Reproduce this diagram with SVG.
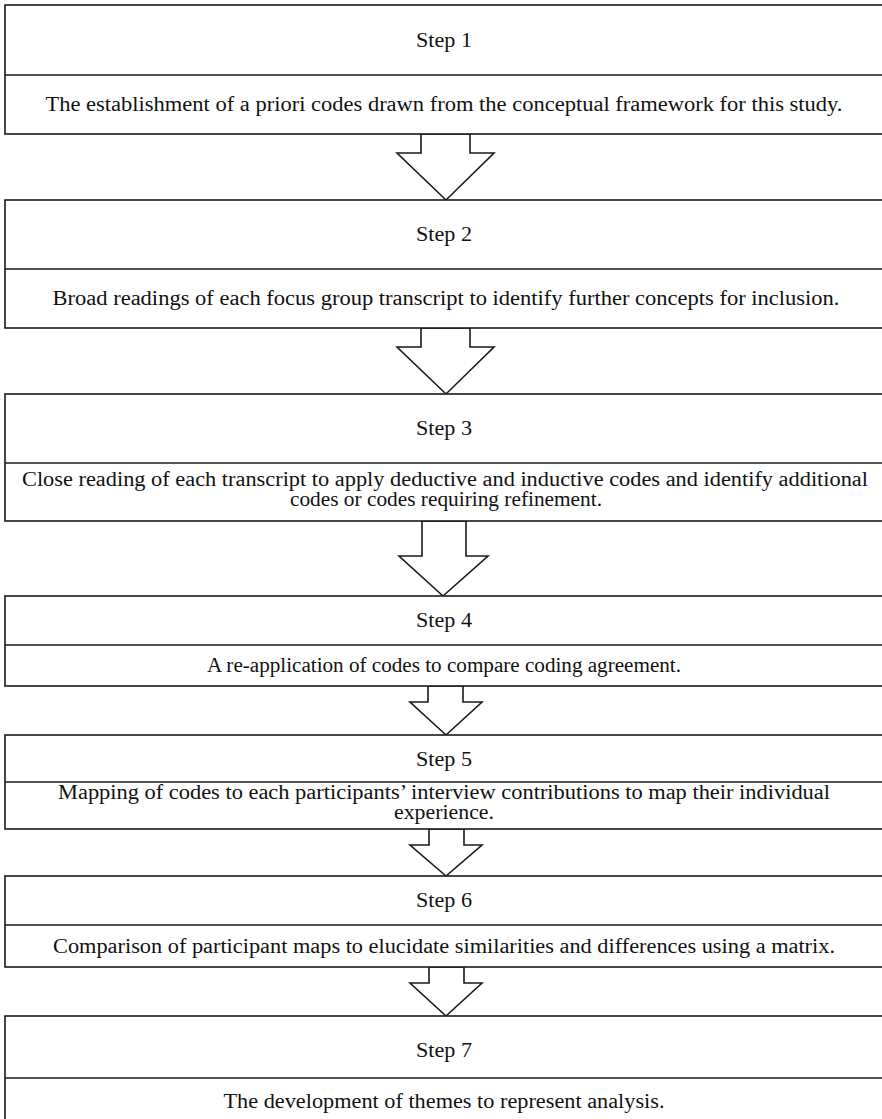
<svg xmlns="http://www.w3.org/2000/svg" width="882" height="1119" viewBox="0 0 882 1119">
<style>
.box{fill:#fff;stroke:#1a1a1a;stroke-width:1.6}
.div{stroke:#1a1a1a;stroke-width:1.6}
.arr{fill:#fff;stroke:#1a1a1a;stroke-width:1.6;stroke-linejoin:miter}
text{font-family:"Liberation Serif","Times New Roman",serif;font-size:20px;fill:#111;text-anchor:middle}
</style>
<rect width="882" height="1119" fill="#fff"/>
<g id="connectors">
<polygon class="arr" points="421,134 421,153 397,153 446,200 494,153 470,153 470,134"/>
<polygon class="arr" points="421,328 421,347 397,347 446,394 494,347 470,347 470,328"/>
<polygon class="arr" points="422,521 422,556 399,556 443,596 488,556 466,556 466,521"/>
<polygon class="arr" points="428,686 428,702 410,702 446,735 482,702 463,702 463,686"/>
<polygon class="arr" points="429,829 429,845 410,845 446,876 482,845 464,845 464,829"/>
<polygon class="arr" points="429,967 429,983 410,983 446,1016 482,983 464,983 464,967"/>
</g>
<g id="step1">
<rect class="box" x="5" y="5" width="890" height="129"/>
<line class="div" x1="5" y1="75" x2="882" y2="75"/>
<text x="444" y="47" textLength="56" lengthAdjust="spacingAndGlyphs">Step 1</text>
<text x="444" y="111" textLength="797" lengthAdjust="spacingAndGlyphs">The establishment of a priori codes drawn from the conceptual framework for this study.</text>
</g>
<g id="step2">
<rect class="box" x="5" y="200" width="890" height="128"/>
<line class="div" x1="5" y1="269" x2="882" y2="269"/>
<text x="444" y="241" textLength="56" lengthAdjust="spacingAndGlyphs">Step 2</text>
<text x="446" y="305" textLength="787" lengthAdjust="spacingAndGlyphs">Broad readings of each focus group transcript to identify further concepts for inclusion.</text>
</g>
<g id="step3">
<rect class="box" x="5" y="394" width="890" height="127"/>
<line class="div" x1="5" y1="463" x2="882" y2="463"/>
<text x="444" y="435" textLength="56" lengthAdjust="spacingAndGlyphs">Step 3</text>
<text x="445" y="486" textLength="846" lengthAdjust="spacingAndGlyphs">Close reading of each transcript to apply deductive and inductive codes and identify additional</text>
<text x="446" y="506" textLength="312" lengthAdjust="spacingAndGlyphs">codes or codes requiring refinement.</text>
</g>
<g id="step4">
<rect class="box" x="5" y="596" width="890" height="90"/>
<line class="div" x1="5" y1="645" x2="882" y2="645"/>
<text x="444" y="627" textLength="56" lengthAdjust="spacingAndGlyphs">Step 4</text>
<text x="444" y="672" textLength="474" lengthAdjust="spacingAndGlyphs">A re-application of codes to compare coding agreement.</text>
</g>
<g id="step5">
<rect class="box" x="5" y="735" width="890" height="94"/>
<line class="div" x1="5" y1="782" x2="882" y2="782"/>
<text x="444" y="766" textLength="56" lengthAdjust="spacingAndGlyphs">Step 5</text>
<text x="444" y="799" textLength="772" lengthAdjust="spacingAndGlyphs">Mapping of codes to each participants’ interview contributions to map their individual</text>
<text x="444" y="819" textLength="100" lengthAdjust="spacingAndGlyphs">experience.</text>
</g>
<g id="step6">
<rect class="box" x="5" y="876" width="890" height="91"/>
<line class="div" x1="5" y1="925" x2="882" y2="925"/>
<text x="444" y="907" textLength="56" lengthAdjust="spacingAndGlyphs">Step 6</text>
<text x="444" y="953" textLength="782" lengthAdjust="spacingAndGlyphs">Comparison of participant maps to elucidate similarities and differences using a matrix.</text>
</g>
<g id="step7">
<rect class="box" x="5" y="1016" width="890" height="120"/>
<line class="div" x1="5" y1="1078" x2="882" y2="1078"/>
<text x="444" y="1057" textLength="56" lengthAdjust="spacingAndGlyphs">Step 7</text>
<text x="444" y="1108" textLength="441" lengthAdjust="spacingAndGlyphs">The development of themes to represent analysis.</text>
</g>
</svg>
